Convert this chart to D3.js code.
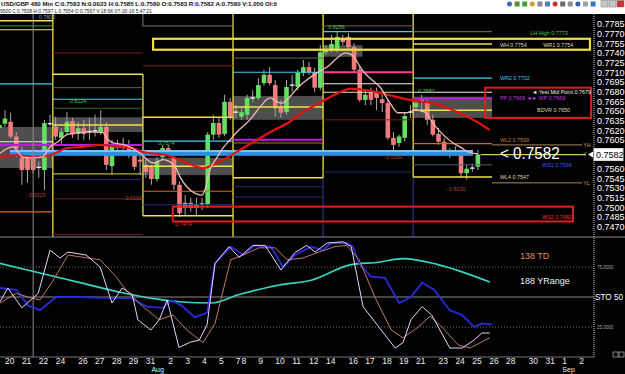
<!DOCTYPE html>
<html>
<head>
<meta charset="utf-8">
<script src="https://cdn.jsdelivr.net/npm/d3@7"></script>
<style>
  body { margin: 0; background: #000; }
  svg { display: block; font-family: "Liberation Sans", Arial, sans-serif; }
</style>
</head>
<body>
<svg id="chart" width="625" height="374"></svg>
<script>
// ---- values ----
const headerLine1 = "USD/GBP 480 Min  C:0.7583  N:0.0023  H:0.7585  L:0.7580  O:0.7583  R:0.7582  A:0.7580  V:1,050  OI:0";
const headerLine2 = "9500  C:0.7508  H:0.7597  L:0.7554  O:0.7567  V:18.6K  07-20-16  5:47:21";

// 480 min bars, bar 0 = first bar of Jul 20
const firstBar = -1;
const ohlc = [
  [0.7623,0.7636,0.7618,0.7628],[0.7630,0.7651,0.7625,0.7638],[0.7633,0.7647,0.7607,0.7610],
  [0.7610,0.7617,0.7578,0.7591],[0.7577,0.7594,0.7535,0.7558],[0.7577,0.7581,0.7538,0.7558],
  [0.7577,0.7589,0.7553,0.7558],[0.7561,0.7571,0.7546,0.7563],[0.7558,0.7636,0.7527,0.7631],
  [0.7631,0.7644,0.7626,0.7630],[0.7625,0.7641,0.7605,0.7610],[0.7608,0.7623,0.7597,0.7617],
  [0.7617,0.7648,0.7613,0.7633],[0.7634,0.7639,0.7608,0.7613],[0.7614,0.7633,0.7605,0.7623],
  [0.7623,0.7636,0.7605,0.7614],[0.7618,0.7639,0.7605,0.7619],[0.7618,0.7644,0.7610,0.7620],
  [0.7617,0.7651,0.7613,0.7625],[0.7625,0.7633,0.7558,0.7566],[0.7564,0.7605,0.7550,0.7594],
  [0.7592,0.7605,0.7581,0.7597],[0.7595,0.7608,0.7586,0.7594],[0.7594,0.7605,0.7577,0.7589],
  [0.7581,0.7589,0.7558,0.7563],[0.7574,0.7589,0.7550,0.7571],[0.7566,0.7574,0.7546,0.7555],
  [0.7563,0.7566,0.7535,0.7544],[0.7544,0.7578,0.7540,0.7571],[0.7578,0.7597,0.7574,0.7592],
  [0.7592,0.7597,0.7580,0.7586],[0.7578,0.7581,0.7527,0.7535],[0.7535,0.7540,0.7485,0.7491],
  [0.7499,0.7519,0.7488,0.7507],[0.7507,0.7515,0.7493,0.7499],[0.7499,0.7515,0.7488,0.7505],
  [0.7505,0.7515,0.7496,0.7506],[0.7504,0.7617,0.7499,0.7613],[0.7613,0.7644,0.7605,0.7631],
  [0.7631,0.7639,0.7608,0.7613],[0.7614,0.7675,0.7611,0.7664],[0.7664,0.7670,0.7636,0.7641],
  [0.7648,0.7659,0.7639,0.7649],[0.7641,0.7656,0.7636,0.7648],[0.7644,0.7675,0.7636,0.7670],
  [0.7670,0.7682,0.7664,0.7671],[0.7670,0.7701,0.7667,0.7690],[0.7693,0.7714,0.7689,0.7706],
  [0.7706,0.7718,0.7690,0.7693],[0.7690,0.7698,0.7641,0.7654],[0.7656,0.7667,0.7639,0.7647],
  [0.7648,0.7698,0.7644,0.7687],[0.7690,0.7706,0.7679,0.7691],[0.7687,0.7714,0.7682,0.7709],
  [0.7709,0.7729,0.7704,0.7718],[0.7718,0.7726,0.7706,0.7710],[0.7710,0.7717,0.7679,0.7686],
  [0.7686,0.7752,0.7682,0.7741],[0.7741,0.7752,0.7737,0.7745],[0.7745,0.7768,0.7741,0.7754],
  [0.7745,0.7773,0.7741,0.7765],[0.7763,0.7768,0.7752,0.7757],[0.7765,0.7771,0.7745,0.7749],
  [0.7749,0.7755,0.7710,0.7714],[0.7714,0.7720,0.7664,0.7667],[0.7667,0.7682,0.7659,0.7675],
  [0.7678,0.7686,0.7659,0.7667],[0.7679,0.7686,0.7651,0.7670],[0.7668,0.7675,0.7648,0.7662],
  [0.7662,0.7667,0.7605,0.7608],[0.7608,0.7617,0.7589,0.7597],[0.7600,0.7613,0.7594,0.7610],
  [0.7608,0.7648,0.7602,0.7642],[0.7648,0.7659,0.7639,0.7649],[0.7656,0.7667,0.7651,0.7662],
  [0.7667,0.7675,0.7648,0.7666],[0.7662,0.7670,0.7628,0.7636],[0.7636,0.7644,0.7610,0.7613],
  [0.7614,0.7623,0.7597,0.7602],[0.7602,0.7608,0.7581,0.7586],[0.7585,0.7592,0.7577,0.7584],
  [0.7588,0.7595,0.7580,0.7589],[0.7581,0.7586,0.7546,0.7553],[0.7553,0.7566,0.7543,0.7560],
  [0.7561,0.7568,0.7555,0.7562],[0.7563,0.7589,0.7558,0.7582]
];
const lastPrice = 0.7582;

// moving averages  [bar, price]
const pinkMA = [[-0.9,0.7584],[1.4,0.7594],[3.2,0.7578],[5.0,0.7577],[6.6,0.7578],[8.0,0.7594],[9.4,0.7602],
  [11.0,0.7613],[12.8,0.7616],[14.6,0.7617],[16.3,0.7617],[17.4,0.7616],[18.3,0.7605],[19.2,0.7600],
  [21.3,0.7597],[24.0,0.7584],[26.3,0.7569],[28.1,0.7574],[30.2,0.7563],[31.1,0.7547],[32.3,0.7532],
  [33.7,0.7522],[35.0,0.7519],[35.5,0.7527],[36.4,0.7558],[37.7,0.7578],[38.7,0.7592],[40.0,0.7605],
  [41.2,0.7617],[43.5,0.7636],[45.3,0.7656],[47.1,0.7670],[48.3,0.7664],[49.2,0.7662],[50.6,0.7672],
  [52.0,0.7686],[53.6,0.7698],[55.4,0.7709],[57.2,0.7718],[59.0,0.7732],[60.4,0.7740],[61.6,0.7737],
  [62.7,0.7724],[63.4,0.7714],[64.8,0.7701],[66.6,0.7687],[68.4,0.7662],[69.8,0.7647],[71.4,0.7647],
  [72.8,0.7651],[74.6,0.7648],[76.0,0.7631],[77.8,0.7613],[79.6,0.7600],[81.2,0.7592],[82.2,0.7586],
  [84.0,0.7583]];
const redMA = [[-0.9,0.7578],[2.1,0.7581],[5.0,0.7578],[8.0,0.7581],[11.0,0.7592],[13.9,0.7594],
  [16.9,0.7597],[19.9,0.7594],[22.7,0.7592],[24.5,0.7586],[28.8,0.7581],[32.3,0.7569],[35.2,0.7561],
  [36.9,0.7566],[39.4,0.7577],[41.7,0.7589],[44.8,0.7605],[47.6,0.7619],[50.6,0.7633],[52.4,0.7645],
  [56.0,0.7663],[59.5,0.7679],[61.3,0.7684],[64.3,0.7682],[67.9,0.7675],[71.9,0.7667],[76.0,0.7662],
  [79.6,0.7651],[83.8,0.7633],[86.1,0.7620]];

// stochastic pane  [bar, value]
const stoSlow = [[-0.9,78],[6.2,70],[13.3,62],[20.4,54],[27.4,48],[30.9,46],[36.6,45],[41.6,52],
  [48.7,60],[54.4,64],[61.5,77],[66.4,79],[70.7,82],[76.9,77],[86.1,62.5]];
const stoBlue = [[-0.9,57.5],[2.0,56],[4.1,43],[6.2,39],[9.1,50],[13.3,50],[19.0,49],[22.4,49],[25.2,42],
  [28.1,41],[29.5,47.5],[31.6,42],[33.7,33],[35.9,37],[37.3,78],[40.1,92],[42.3,85],[44.4,93],[47.2,92],
  [49.4,75],[51.5,85],[54.4,92],[56.5,89],[57.9,95],[60.7,95],[61.8,92],[62.9,78],[65.0,67],[67.5,66],
  [70.0,45],[72.1,50],[74.1,62],[76.2,56],[79.0,39],[81.2,35],[83.3,25],[84.7,28],[86.5,27]];
const stoK = [[-0.9,46],[0.5,57.5],[3.0,41],[5.9,53],[8.0,89],[9.8,82.5],[11.2,87.5],[14.4,85],[16.9,75],
  [19.0,45],[20.8,57.5],[22.6,52],[23.6,31],[25.9,22.5],[27.4,31],[28.8,47.5],[30.9,8],[33.0,12.5],
  [34.5,14],[35.9,27],[37.3,78],[39.8,92],[41.6,83],[44.0,93],[46.2,93],[49.0,72.5],[51.5,87],[53.6,93],
  [55.1,87.5],[57.2,95],[60.0,96],[61.5,92],[63.6,42],[66.4,25],[69.3,7.5],[70.7,12],[72.1,31],[74.1,42],
  [75.8,35],[79.0,7.5],[81.2,7.5],[83.3,14],[84.7,20],[86.1,20]];
const stoD = [[-0.9,45],[2.0,53],[4.8,49],[6.2,47.5],[8.3,62],[11.2,85],[14.0,83],[16.9,81],[19.7,67],
  [21.8,54],[24.5,42],[27.4,31],[29.8,35],[32.3,22.5],[35.2,12],[37.3,28],[40.1,81],[42.3,85],[45.1,91],
  [48.0,91],[50.1,81],[52.9,82.5],[55.8,87.5],[58.6,92],[60.7,93],[62.9,81],[65.7,50],[68.6,22.5],
  [70.7,16],[73.4,25],[75.5,34],[77.6,25],[80.5,10],[82.6,7.5],[86.1,16]];
const stoLevels = [75, 50, 25];

const priceTicks = [0.7785,0.7770,0.7755,0.7740,0.7725,0.7710,0.7695,0.7680,0.7665,0.7650,0.7635,
  0.7620,0.7605,0.7590,0.7575,0.7560,0.7545,0.7530,0.7515,0.7500,0.7485,0.7470];
const dayTicks = [["20",0],["21",3],["22",6],["24",9],["26",13],["27",16],["28",19],["29",22],["31",25],
  ["2",29],["3",32],["4",35],["5",38],["7",41],["8",42],["9",45],["10",48],["11",51],["12",54],["14",57],
  ["16",61],["17",64],["18",67],["19",70],["21",73],["23",77],["24",80],["25",83],["26",86],["28",89],
  ["30",93],["31",96],["1",99],["2",102]];
const monthTicks = [["Aug",26],["Sep",99]];
const cursorBar = 5;

// pivot / weekly levels  [fromBar, toBar, price, kind]
const levels = [
  [-1.5,8.5,0.7790,"yellow"],[-1.5,8.5,0.7782,"green"],[-1.5,8.5,0.7776,"paleyellow"],
  [-1.5,8.5,0.7692,"cyan"],[-1.5,8.5,0.7602,"white"],[-1.5,24.5,0.7597,"magenta"],[-1.5,8.5,0.7493,"orange"],
  [8.5,24.5,0.7740,"darkred"],[8.5,24.5,0.7707,"yellow"],[8.5,24.5,0.7686,"grey"],[8.5,24.5,0.7668,"cyan"],
  [8.5,24.5,0.7654,"darkgreen"],[8.5,24.5,0.7628,"yellow"],[8.5,24.5,0.7552,"olive"],[8.5,24.5,0.7543,"navy"],
  [8.5,24.5,0.7513,"darkred"],[8.5,24.5,0.7458,"darkred"],
  [24.5,40.5,0.7720,"darkred"],[24.5,40.5,0.7640,"yellow"],[24.5,40.5,0.7603,"cyan"],[24.5,40.5,0.7564,"yellow"],
  [24.5,40.5,0.7525,"orange"],[24.5,40.5,0.7504,"navy"],[24.5,40.5,0.7487,"yellow"],
  [40.5,56.5,0.7732,"grey"],[40.5,56.5,0.7710,"cyan"],[40.5,56.5,0.7656,"yellow"],[40.5,56.5,0.7605,"magenta"],
  [40.5,56.5,0.7600,"orange"],[40.5,56.5,0.7546,"yellow"],[40.5,56.5,0.7532,"navy"],[40.5,56.5,0.7516,"navy"],
  [56.5,72.5,0.7782,"grey"],[56.5,72.5,0.7773,"cyan"],[56.5,72.5,0.7710,"pink"],[56.5,72.5,0.7692,"white"],
  [56.5,72.5,0.7679,"paleyellow"],[56.5,72.5,0.7636,"darkred"],[56.5,72.5,0.7555,"navy"],
  [72.5,86.5,0.7773,"green"],[72.5,86.5,0.7754,"yellow"],[72.5,86.5,0.7701,"cyan"],[72.5,86.5,0.7679,"white"],
  [72.5,86.5,0.7669,"magenta"],[72.5,86.5,0.7651,"yellow"],[72.5,86.5,0.7599,"orange"],[72.5,86.5,0.7566,"slate"],
  [72.5,86.5,0.7547,"yellow"],
  [86.5,102.5,0.7597,"tan"],[84.5,103.2,0.7582,"lime"],[86.5,102.5,0.7538,"tan"]
];
// shaded zones  [fromBar, toBar, top, bottom]
const bands = [[-1.5,8.5,0.7625,0.7561],[8.5,24.5,0.7640,0.7617],[24.5,40.5,0.7577,0.7550],
  [40.5,56.5,0.7673,0.7636],[56.5,63.5,0.7752,0.7734],[72.5,86.5,0.7672,0.7639]];
const blueBand = [0.9, 83.1, 0.7589, 0.7580];
// outlined boxes  [fromBar, toBar, top, bottom, kind]
const boxes = [[26.3,103.9,0.7762,0.7745,"yellow"],[29.8,100.9,0.7501,0.7478,"red"],
  [85.3,104.1,0.7686,0.7639,"red"],[24.5,40.5,0.7808,0.7782,"grey"]];
// week separators  [bar, top, bottom, kind]  (null = pane edge)
const weekEdges = [[8.5,null,null,"yellow"],[24.5,0.7707,0.7487,"yellow"],[40.5,null,null,"yellow"],
  [56.5,null,0.7546,"yellow"],[56.5,0.7546,null,"navy"],[72.5,null,0.7547,"yellow"],[72.5,0.7547,null,"navy"]];
// small texts  [bar, price, text, kind]
const notes = [
  [93.3,0.7771,"LH High 0.7773","green"],[87.9,0.7752,"WH 0.7754","pale"],[95.6,0.7752,"WR1 0.7754","pale"],
  [87.9,0.7701,"WR2 0.7702","cyan"],[93.6,0.7679,"\u25C4 Yest Mid Point 0.7679","white"],
  [87.9,0.7670,"PP 0.7669 \u25C4\u25BA WP 0.7669","magenta"],[94.5,0.7651,"BDVR 0.7650","pale"],
  [87.9,0.7604,"WL2 0.7599","orange"],[95.4,0.7566,"WS1 0.7566","blue"],[87.9,0.7547,"WL4 0.7547","pale"],
  [95.4,0.7485,"WS2 0.7482","red"],[102.7,0.7597,"YH","tan"],[102.7,0.7582,"Y","tan"],[102.7,0.7538,"YL","tan"],
  [6.0,0.7796,"0.7802","grey"],[11.5,0.7665,"0.8124","green"],[3.7,0.7519,"- 0.0329","brown"],
  [27.2,0.7600,"0.7574","green"],[20.8,0.7515,"- 0.0102","brown"],[30.2,0.7474,"0.7474","red"],
  [57.4,0.7780,"0.8256","green"],[67.1,0.7578,"- 0.0180","brown"],[78.3,0.7529,"- 0.8130","brown"],
  [73.4,0.7681,"0.7681","green"]
];
const toolIcons = ["#3b6fb0","#5f8f2f","#3ca03c","#d0a030","#8a8a8a","#4f7fc0","#c03030","#6a6a6a",
  "#909090","#2f60a8","#a0a0a0","#3575c5"];

// ---- styles ----
const lineStyle = {
  yellow: ["#efe24a", 1.5], paleyellow: ["#e6e6a8", 1.1], olive: ["#b5ae3c", 1.3], cyan: ["#3fcfee", 1.2],
  magenta: ["#b61ee0", 2], orange: ["#d86a22", 1.2], navy: ["#24307e", 1], darkred: ["#7a1e1e", 1],
  grey: ["#6e5e52", 1], green: ["#3e9e3e", 1], darkgreen: ["#34602a", 1], white: ["#eeeeee", 1.1],
  pink: ["#ff3f8e", 1.8], slate: ["#4a5a7a", 1], tan: ["#a88a5a", 1], lime: ["#c8d848", 1.2]
};
const boxStyle = { yellow: ["#f0e43c", 2.2], red: ["#e01e1e", 2], grey: ["#7a7a7a", 1] };
const noteColor = { green: "#56c456", pale: "#dcdcae", cyan: "#3cc6e6", white: "#f2f2f2", magenta: "#c23ee0",
  orange: "#d07a3a", blue: "#3f5cff", red: "#e03a3a", brown: "#b04a3a", grey: "#9a9a9a", tan: "#c0a070" };

const W = 625, H = 374;
const paneTop = 14, paneMid = 237, paneBottom = 357, axisX = 594;
const svg = d3.select("#chart");

const x = d3.scaleLinear().domain([0, 102]).range([5, 579.26]);
const y = d3.scaleLinear().domain([0.7470, 0.7785]).range([226.6, 24]);
const ys = d3.scaleLinear().domain([0, 100]).range([paneBottom, paneMid]);

svg.append("rect").attr("width", W).attr("height", H).attr("fill", "#000");

const defs = svg.append("defs");
defs.append("clipPath").attr("id", "clipP").append("rect")
  .attr("x", 0).attr("y", paneTop).attr("width", axisX).attr("height", paneMid - paneTop);
defs.append("clipPath").attr("id", "clipS").append("rect")
  .attr("x", 0).attr("y", paneMid).attr("width", axisX).attr("height", paneBottom - paneMid);

// header
svg.append("rect").attr("width", W).attr("height", paneTop).attr("fill", "#fff");
svg.append("text").attr("x", 1).attr("y", 6).attr("font-size", 6.2).attr("font-weight", "bold")
  .attr("fill", "#111").attr("textLength", 276).attr("lengthAdjust", "spacingAndGlyphs").text(headerLine1);
svg.append("text").attr("x", 0).attr("y", 12.8).attr("font-size", 5.8).attr("fill", "#222")
  .attr("textLength", 152).attr("lengthAdjust", "spacingAndGlyphs").text(headerLine2);
svg.selectAll("rect.tool").data(toolIcons).join("rect").attr("class", "tool")
  .attr("x", (d, i) => 507 + i * 7.6).attr("y", 1.5).attr("width", 5).attr("height", 5)
  .attr("rx", (d, i) => i % 3 === 0 ? 2.5 : 0.5).attr("fill", d => d);
svg.selectAll("rect.win").data(["#c8c8c8", "#c8c8c8", "#d03030"]).join("rect").attr("class", "win")
  .attr("x", (d, i) => 601 + i * 8).attr("y", 0.5).attr("width", 7).attr("height", 6.5)
  .attr("fill", d => d).attr("stroke", "#777").attr("stroke-width", 0.5);

// ---- price pane ----
const pp = svg.append("g").attr("clip-path", "url(#clipP)");

pp.selectAll("rect.band").data(bands).join("rect").attr("class", "band")
  .attr("x", d => x(d[0])).attr("width", d => x(d[1]) - x(d[0]))
  .attr("y", d => y(d[2])).attr("height", d => y(d[3]) - y(d[2]))
  .attr("fill", "#4e4e4e");

// cursor line through both panes
svg.append("line").attr("x1", x(cursorBar)).attr("x2", x(cursorBar))
  .attr("y1", paneTop).attr("y2", paneBottom).attr("stroke", "#8c8c8c").attr("stroke-width", 1);

pp.selectAll("line.week").data(weekEdges).join("line").attr("class", "week")
  .attr("x1", d => x(d[0])).attr("x2", d => x(d[0]))
  .attr("y1", d => d[1] === null ? paneTop : y(d[1]))
  .attr("y2", d => d[2] === null ? paneMid : y(d[2]))
  .attr("stroke", d => lineStyle[d[3]][0]).attr("stroke-width", 1.3);

// candles
const bars = ohlc.map((d, k) => ({ i: firstBar + k, o: d[0], h: d[1], l: d[2], c: d[3] }));
const cg = pp.append("g");
cg.selectAll("line").data(bars).join("line")
  .attr("x1", d => x(d.i)).attr("x2", d => x(d.i))
  .attr("y1", d => y(d.h)).attr("y2", d => y(d.l))
  .attr("stroke", "#a8a8a8").attr("stroke-width", 1);
cg.selectAll("rect").data(bars).join("rect")
  .attr("x", d => x(d.i) - 2.3).attr("width", 4.6)
  .attr("y", d => y(Math.max(d.o, d.c)))
  .attr("height", d => Math.max(1.3, Math.abs(y(d.o) - y(d.c))))
  .attr("fill", d => Math.abs(d.c - d.o) <= 0.0002 ? "#f4f4f4" : (d.c > d.o ? "#62e062" : "#f07c7c"));

pp.selectAll("line.lvl").data(levels).join("line").attr("class", "lvl")
  .attr("x1", d => x(d[0])).attr("x2", d => x(d[1]))
  .attr("y1", d => y(d[2])).attr("y2", d => y(d[2]))
  .attr("stroke", d => lineStyle[d[3]][0]).attr("stroke-width", d => lineStyle[d[3]][1]);

// blue band
pp.append("rect").attr("x", x(blueBand[0])).attr("width", x(blueBand[1]) - x(blueBand[0]))
  .attr("y", y(blueBand[2])).attr("height", y(blueBand[3]) - y(blueBand[2])).attr("fill", "#2c8fe0");
pp.append("line").attr("x1", x(blueBand[0])).attr("x2", x(blueBand[1]))
  .attr("y1", y(blueBand[2]) + 1).attr("y2", y(blueBand[2]) + 1)
  .attr("stroke", "#8ed8ff").attr("stroke-width", 1.6);

// moving averages
const maLine = d3.line().x(d => x(d[0])).y(d => y(d[1])).curve(d3.curveMonotoneX);
pp.append("path").datum(redMA).attr("d", maLine).attr("fill", "none")
  .attr("stroke", "#e01212").attr("stroke-width", 2.2);
pp.append("path").datum(pinkMA).attr("d", maLine).attr("fill", "none")
  .attr("stroke", "#f6b8b4").attr("stroke-width", 1.3);

pp.selectAll("rect.box").data(boxes).join("rect").attr("class", "box")
  .attr("x", d => x(d[0])).attr("width", d => x(d[1]) - x(d[0]))
  .attr("y", d => y(d[2])).attr("height", d => y(d[3]) - y(d[2]))
  .attr("fill", "none").attr("stroke", d => boxStyle[d[4]][0]).attr("stroke-width", d => boxStyle[d[4]][1]);

pp.selectAll("text.note").data(notes).join("text").attr("class", "note")
  .attr("x", d => x(d[0])).attr("y", d => y(d[1])).attr("dy", "0.35em")
  .attr("font-size", 5.4).attr("fill", d => noteColor[d[3]]).text(d => d[2]);

// last price callout
pp.append("text").attr("x", x(87.9)).attr("y", y(lastPrice)).attr("dy", "0.24em")
  .attr("font-size", 17).attr("fill", "#fff").attr("textLength", 60).attr("lengthAdjust", "spacingAndGlyphs")
  .text("< " + lastPrice.toFixed(4));

// ---- right price axis ----
svg.append("line").attr("x1", axisX).attr("x2", axisX).attr("y1", paneTop).attr("y2", paneBottom)
  .attr("stroke", "#d8d8d8").attr("stroke-dasharray", "1,1");
// ticks hidden under the last price box are left out
const shownTicks = priceTicks.filter(p => Math.abs(p - lastPrice) > 0.0009);
const yAxis = d3.axisRight(y).tickValues(shownTicks).tickFormat(d3.format(".4f")).tickSize(0).tickPadding(3);
const ya = svg.append("g").attr("transform", "translate(" + axisX + ",0)").call(yAxis);
ya.select(".domain").remove();
ya.selectAll("text").attr("fill", "#fff").attr("font-size", 9).attr("font-family", "Liberation Sans, Arial, sans-serif");

svg.append("path")
  .attr("d", d3.line()([[axisX - 6, y(lastPrice)], [axisX - 1, y(lastPrice) - 3], [axisX - 1, y(lastPrice) + 3]]))
  .attr("fill", "#fff");
svg.append("rect").attr("x", axisX).attr("y", y(lastPrice) - 6).attr("width", 29).attr("height", 12)
  .attr("fill", "#fff").attr("stroke", "#ddd");
svg.append("text").attr("x", axisX + 2).attr("y", y(lastPrice)).attr("dy", "0.35em")
  .attr("font-size", 9).attr("fill", "#000").text(lastPrice.toFixed(4));

// ---- stochastic pane ----
svg.append("line").attr("x1", 0).attr("x2", W).attr("y1", paneMid).attr("y2", paneMid)
  .attr("stroke", "#8a8a8a");
const sp = svg.append("g").attr("clip-path", "url(#clipS)");
sp.selectAll("line.sl").data(stoLevels).join("line").attr("class", "sl")
  .attr("x1", 0).attr("x2", axisX).attr("y1", d => ys(d)).attr("y2", d => ys(d))
  .attr("stroke", d => d === 50 ? "#8a8a8a" : "#777")
  .attr("stroke-dasharray", d => d === 50 ? null : "1,2");

const stoLine = d3.line().x(d => x(d[0])).y(d => ys(d[1]));
sp.append("path").datum(stoSlow).attr("d", stoLine.curve(d3.curveMonotoneX)).attr("fill", "none")
  .attr("stroke", "#38d6c6").attr("stroke-width", 1.6);
stoLine.curve(d3.curveLinear);
sp.append("path").datum(stoBlue).attr("d", stoLine).attr("fill", "none")
  .attr("stroke", "#2a2ad8").attr("stroke-width", 1.8);
sp.append("path").datum(stoD).attr("d", stoLine).attr("fill", "none")
  .attr("stroke", "#b87a6a").attr("stroke-width", 1);
sp.append("path").datum(stoK).attr("d", stoLine).attr("fill", "none")
  .attr("stroke", "#e6d2ff").attr("stroke-width", 1);

svg.append("text").attr("x", 520).attr("y", 258.5).attr("font-size", 9).attr("fill", "#e0905a").text("138 TD");
svg.append("text").attr("x", 520).attr("y", 283.5).attr("font-size", 9).attr("fill", "#f0f0f0").text("188 YRange");
svg.append("text").attr("x", 597).attr("y", ys(75)).attr("dy", "0.35em").attr("font-size", 4.5).attr("fill", "#aaa").text("75.0000");
svg.append("text").attr("x", 597).attr("y", ys(25)).attr("dy", "0.35em").attr("font-size", 4.5).attr("fill", "#aaa").text("25.0000");
svg.append("text").attr("x", 595).attr("y", ys(50)).attr("dy", "0.36em").attr("font-size", 9).attr("fill", "#fff")
  .attr("textLength", 28).attr("lengthAdjust", "spacingAndGlyphs").text("STO 50");

// ---- time axis ----
svg.append("line").attr("x1", 0).attr("x2", axisX).attr("y1", paneBottom).attr("y2", paneBottom).attr("stroke", "#777");
svg.selectAll("text.day").data(dayTicks).join("text").attr("class", "day")
  .attr("x", d => x(d[1])).attr("y", 363.6).attr("font-size", 8.5).attr("fill", "#eee").text(d => d[0]);
svg.selectAll("text.month").data(monthTicks).join("text").attr("class", "month")
  .attr("x", d => x(d[1])).attr("y", 371.6).attr("font-size", 7).attr("fill", "#eee").text(d => d[0]);
svg.selectAll("rect.corner").data([0, 1]).join("rect").attr("class", "corner")
  .attr("x", d => 613 + d * 6).attr("y", 352).attr("width", 5).attr("height", 5)
  .attr("fill", "none").attr("stroke", "#bbb").attr("stroke-width", 0.7);
</script>
</body>
</html>
